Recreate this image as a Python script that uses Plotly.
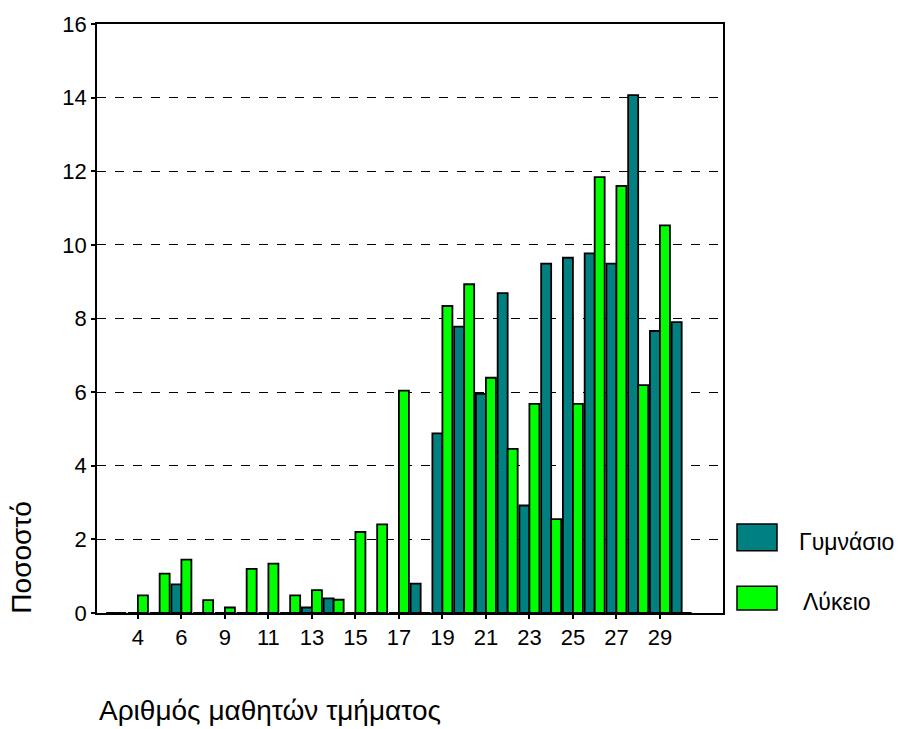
import plotly.graph_objects as go

categories = ["3", "4", "5", "6", "7", "9", "10", "11", "12", "13", "14", "15", "16", "17",
              "18", "19", "20", "21", "22", "23", "24", "25", "26", "27", "28", "29", "30"]
gymnasio = [0, 0, 0, 0.78, 0, 0, 0, 0, 0, 0.15, 0.4, 0, 0, 0,
            0.8, 4.88, 7.78, 5.95, 8.69, 2.92, 9.49, 9.65, 9.77, 9.49, 14.07, 7.66, 7.9]
lykeio = [0, 0.48, 1.07, 1.45, 0.35, 0.15, 1.2, 1.34, 0.48, 0.62, 0.36, 2.2, 2.41, 6.04,
          0, 8.34, 8.93, 6.39, 4.46, 5.68, 2.55, 5.68, 11.84, 11.6, 6.19, 10.53, 0]
tick_labels = ["4", "6", "9", "11", "13", "15", "17", "19", "21", "23", "25", "27", "29"]
series_names = ["Γυμνάσιο", "Λύκειο"]
colors = ["#008080", "#00FF00"]

FONT = "Liberation Sans, Arial, sans-serif"

fig = go.Figure()
for name, vals, col in zip(series_names, [gymnasio, lykeio], colors):
    fig.add_trace(go.Bar(x=categories, y=vals, name=name, marker_color=col,
                         marker_line_color="black", marker_line_width=1.8,
                         showlegend=False))

fig.update_layout(
    width=899, height=729,
    margin=dict(l=97, r=176, t=17, b=116),
    paper_bgcolor="white", plot_bgcolor="white",
    barmode="group", bargap=0.08, bargroupgap=0,
    font=dict(family=FONT, size=22, color="black"),
)
fig.update_xaxes(
    type="category", categoryorder="array", categoryarray=categories,
    range=[-0.88, 27.9],
    tickmode="array", tickvals=tick_labels, ticktext=tick_labels,
    ticks="outside", ticklen=4, tickwidth=2, tickcolor="black",
    showline=True, linecolor="black", linewidth=1.5, mirror=True,
    showgrid=False, zeroline=False,
    tickfont=dict(family=FONT, size=22, color="black"),
)
fig.update_yaxes(
    range=[0, 16], tickmode="linear", tick0=0, dtick=2,
    ticks="outside", ticklen=4, tickwidth=2, tickcolor="black",
    showline=True, linecolor="black", linewidth=1.5, mirror=True,
    showgrid=True, gridcolor="black", griddash="dash", gridwidth=1,
    zeroline=False,
    tickfont=dict(family=FONT, size=22, color="black"),
)

# axis titles
fig.add_annotation(text="Ποσοστό", xref="paper", yref="paper", x=(22 - 97) / 626,
                   y=(613 - 557) / 596,
                   textangle=-90, showarrow=False, xanchor="center", yanchor="middle",
                   font=dict(family=FONT, size=28, color="black"))
fig.add_annotation(text="Αριθμός μαθητών τμήματος", xref="paper", yref="paper",
                   x=0.0, y=(613 - 712) / 596, showarrow=False, xanchor="left",
                   yanchor="middle",
                   font=dict(family=FONT, size=28, color="black"))

# custom legend
leg = [(0.151, 0.1057, 541), (0.0453, 0.005, 602)]
text_x = [797, 801]
for (y0, y1, ty), name, col, tx in zip(leg, series_names, colors, text_x):
    fig.add_shape(type="rect", xref="paper", yref="paper",
                  x0=(737 - 97) / 626, x1=(777 - 97) / 626, y0=y1, y1=y0,
                  fillcolor=col, line=dict(color="black", width=1.5))
    fig.add_annotation(text=name, xref="paper", yref="paper",
                       x=(tx - 97) / 626, y=(613 - ty) / 596, showarrow=False,
                       xanchor="left", yanchor="middle",
                       font=dict(family=FONT, size=23, color="black"))

fig.write_html("out.html", config={"displayModeBar": False},
               post_script="document.body.style.margin='0';document.body.style.overflow='hidden';")
